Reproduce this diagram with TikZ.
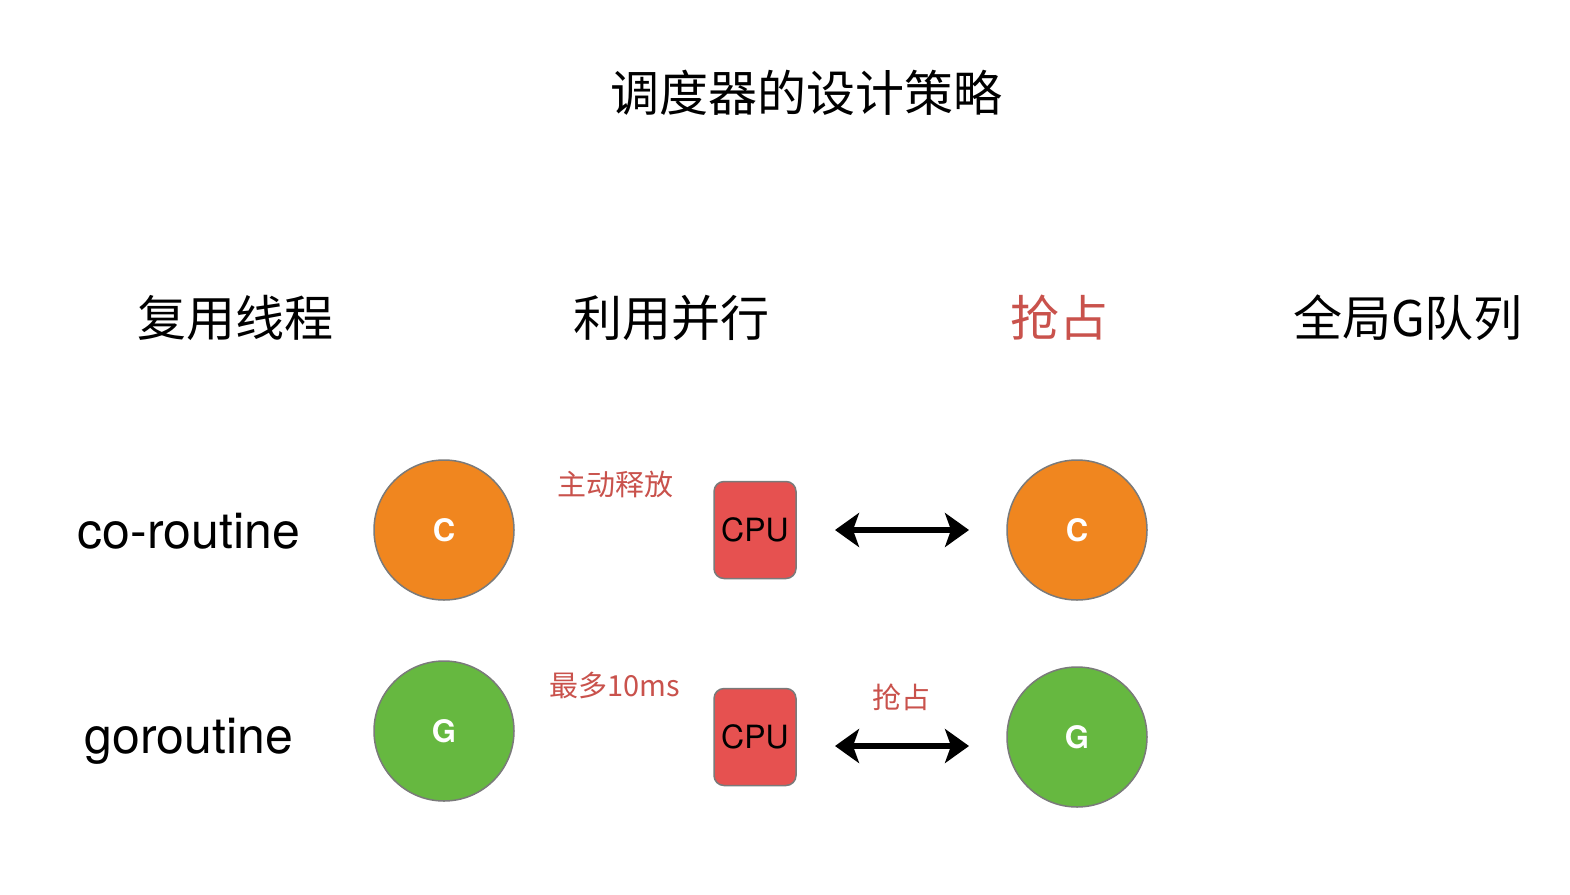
\documentclass[tikz,border=0pt]{standalone}
\usepackage{fontspec}
\setmainfont{TeX Gyre Heros}
\newfontfamily\cjk{Noto Sans CJK SC}
\usetikzlibrary{arrows.meta}
\definecolor{corange}{HTML}{F0861F}
\definecolor{cgreen}{HTML}{66B840}
\definecolor{cpured}{HTML}{E65150}
\definecolor{edgegray}{HTML}{7A7A7A}
\definecolor{txtred}{HTML}{C9524C}
\tikzset{
  circ/.style={circle,draw=edgegray,line width=1.5pt,minimum size=140pt,inner sep=0pt,text=white,font=\fontsize{31}{36}\selectfont\bfseries},
  cpubox/.style={rectangle,rounded corners=10pt,draw=edgegray,line width=1.5pt,fill=cpured,minimum width=82pt,minimum height=97pt,inner sep=0pt,font=\fontsize{32}{38}\selectfont},
  header/.style={inner sep=0pt,font=\cjk\fontsize{49}{58}\selectfont},
  rowlabel/.style={inner sep=0pt,font=\fontsize{50}{60}\selectfont},
  redlabel/.style={inner sep=0pt,text=txtred,font=\cjk\fontsize{29}{34}\selectfont},
  biarrow/.style={{Stealth[length=24pt,width=34pt,inset=6pt]}-{Stealth[length=24pt,width=34pt,inset=6pt]},line width=6pt,black}
}
\begin{document}
\begin{tikzpicture}[x=1pt,y=-1pt]
\useasboundingbox[fill=white] (0,0) rectangle (1570,894);
\node[inner sep=0pt,font=\cjk\fontsize{49}{58}\selectfont] (title) at (806,93) {调度器的设计策略};
\node[header] (h1) at (235,318) {复用线程};
\node[header] (h2) at (671,318) {利用并行};
\node[header,text=txtred] (h3) at (1059,318) {抢占};
\node[header] (h4) at (1408,318) {全局G队列};
\node[rowlabel] (r1) at (189,531) {co-routine};
\node[rowlabel] (r2) at (189,741) {goroutine};
\node[circ,fill=corange] (c1) at (444,530) {C};
\node[circ,fill=corange] (c2) at (1077,530) {C};
\node[circ,fill=cgreen] (g1) at (444,731) {G};
\node[circ,fill=cgreen] (g2) at (1077,737) {G};
\node[cpubox] (cpu1) at (755,530) {CPU};
\node[cpubox] (cpu2) at (755,737) {CPU};
\node[redlabel] (l1) at (615,484) {主动释放};
\node[redlabel] (l2) at (615,685) {最多10ms};
\node[redlabel] (l3) at (901,697) {抢占};
\coordinate (a1s) at (835,530);
\coordinate (a1e) at (969,530);
\coordinate (a2s) at (835,746);
\coordinate (a2e) at (969,746);
\draw[biarrow] (a1s) -- (a1e);
\draw[biarrow] (a2s) -- (a2e);
\end{tikzpicture}
\end{document}
